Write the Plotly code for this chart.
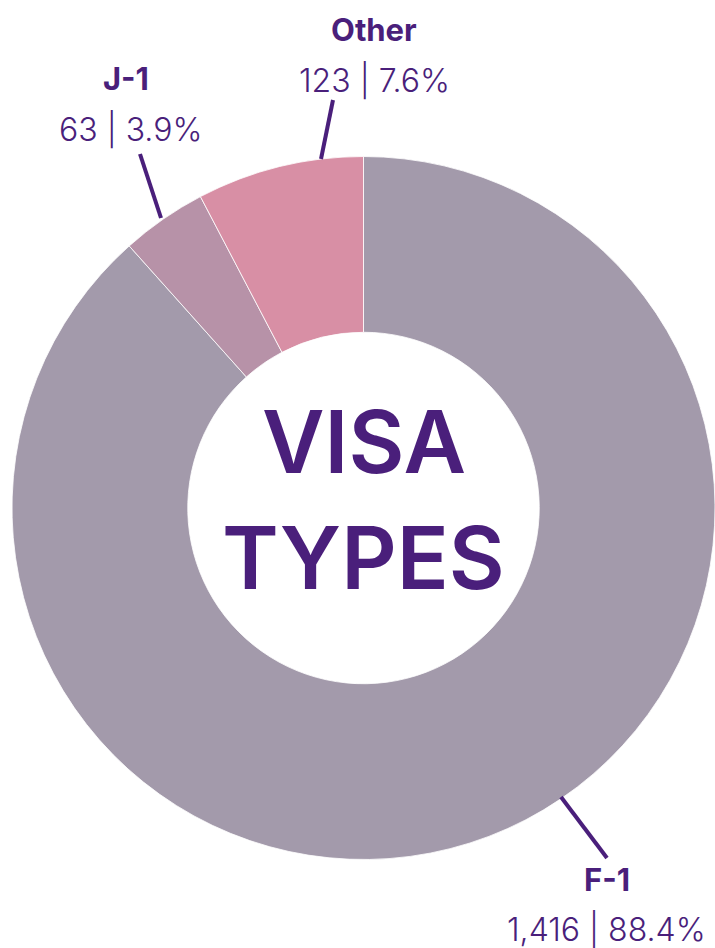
import plotly.graph_objects as go

categories = ["F-1", "J-1", "Other"]
counts = [1416, 63, 123]
percents = ["88.4%", "3.9%", "7.6%"]
colors = ["#A39AAB", "#B792A8", "#D88FA5"]
TEXT = "#4A1F7B"
FONT = "Inter"

W, H = 715, 948
cx, cy, r = 363.5, 508, 351.5

fig = go.Figure(go.Pie(
    labels=categories, values=counts, sort=False, direction="clockwise",
    rotation=0, hole=0.5, textinfo="none", hoverinfo="label+value+percent",
    marker=dict(colors=colors, line=dict(color="white", width=0.8)),
    domain=dict(x=[(cx - r) / W, min(1, (cx + r) / W)],
                y=[(H - cy - r) / H, (H - cy + r) / H]),
    showlegend=False,
))

def px(x):
    return x / W

def py(y):
    return 1 - y / H

# label placement (pixel positions from top-left)
label_pos = {
    "Other": (374, 30, 374, 80.5, (321, 159, 333, 100)),
    "J-1": (125.5, 78.5, 130.5, 129.5, (161, 218, 140, 154)),
    "F-1": (607, 879, 606, 929.5, (561, 797, 607, 858)),
}

annotations = []
shapes = []
for cat, n, pct in zip(categories, counts, percents):
    tx, ty, vx, vy, (x0, y0, x1, y1) = label_pos[cat]
    annotations.append(dict(x=px(tx), y=py(ty), xref="paper", yref="paper",
                            xanchor="center", yanchor="middle",
                            text=f"<b>{cat}</b>", showarrow=False,
                            font=dict(family=FONT, size=31, color=TEXT)))
    annotations.append(dict(x=px(vx), y=py(vy), xref="paper", yref="paper",
                            xanchor="center", yanchor="middle",
                            text=f"{n:,} | {pct}", showarrow=False,
                            font=dict(family=FONT, size=32, color=TEXT, weight=300)))
    shapes.append(dict(type="line", xref="paper", yref="paper",
                       x0=px(x0), y0=py(y0), x1=px(x1), y1=py(y1),
                       line=dict(color=TEXT, width=4)))

annotations.append(dict(x=px(364), y=py(442), xref="paper", yref="paper",
                        xanchor="center", yanchor="middle",
                        text="VISA", showarrow=False,
                        font=dict(family=FONT, size=86, color=TEXT, weight=600)))
annotations.append(dict(x=px(364), y=py(558), xref="paper", yref="paper",
                        xanchor="center", yanchor="middle",
                        text="TYPES", showarrow=False,
                        font=dict(family=FONT, size=86, color=TEXT, weight=600)))

fig.update_layout(width=W, height=H, margin=dict(l=0, r=0, t=0, b=0),
                  paper_bgcolor="white", plot_bgcolor="white",
                  annotations=annotations, shapes=shapes)

fig.write_html("out.html", config={"displayModeBar": False},
               post_script="document.body.style.margin='0';document.body.style.overflow='hidden';")
